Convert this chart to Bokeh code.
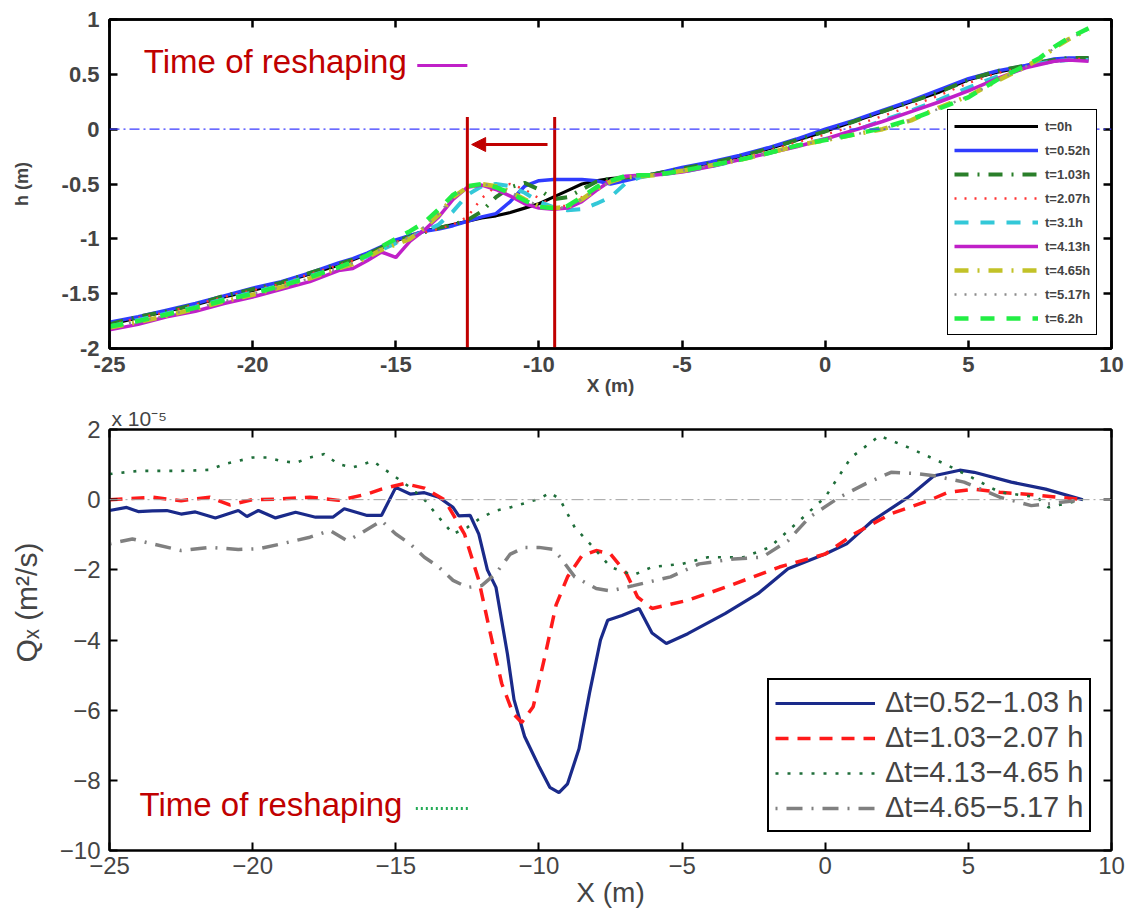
from bokeh.plotting import figure
from bokeh.models import (Range1d, LinearAxis, Legend, LegendItem, Label, Span,
                          Arrow, NormalHead, FixedTicker, Title)
from bokeh.layouts import column
from bokeh.embed import file_html
from bokeh.resources import INLINE

FONT = "Liberation Sans"

# ---------------- top panel data: bed profiles h(x) ----------------
X_TOP = [-25, -24, -23, -22, -21, -20, -19, -18, -17, -16.5, -16, -15.5, -15, -14.5, -14,
         -13.5, -13, -12.5, -12, -11.5, -11, -10.5, -10, -9.5, -9, -8.5, -8, -7.5, -7, -6.5,
         -6, -5, -4, -3, -2, -1, 0, 1, 2, 3, 4, 5, 6, 7, 7.5, 8, 8.5, 9.2]

H_T0 = [-1.78, -1.72, -1.66, -1.60, -1.53, -1.47, -1.40, -1.32, -1.24, -1.19, -1.14, -1.08, -1.02,
        -0.97, -0.93, -0.90, -0.87, -0.84, -0.81, -0.79, -0.76, -0.72, -0.68, -0.62, -0.56, -0.50,
        -0.47, -0.45, -0.44, -0.43, -0.41, -0.36, -0.31, -0.25, -0.18, -0.10, -0.02, 0.07, 0.16,
        0.25, 0.34, 0.45, 0.52, 0.57, 0.60, 0.62, 0.64, 0.64]
H_T052 = [-1.76, -1.71, -1.65, -1.59, -1.52, -1.45, -1.39, -1.31, -1.22, -1.18, -1.13, -1.07, -1.01,
          -0.97, -0.93, -0.91, -0.88, -0.84, -0.80, -0.77, -0.66, -0.52, -0.47, -0.46, -0.46, -0.46,
          -0.47, -0.50, -0.47, -0.44, -0.41, -0.35, -0.30, -0.24, -0.17, -0.09, 0.00, 0.08, 0.17,
          0.26, 0.36, 0.46, 0.53, 0.58, 0.61, 0.64, 0.65, 0.65]
H_T103 = [-1.78, -1.71, -1.66, -1.60, -1.52, -1.46, -1.40, -1.31, -1.23, -1.19, -1.14, -1.08, -1.02,
          -0.98, -0.94, -0.90, -0.87, -0.83, -0.75, -0.62, -0.53, -0.49, -0.55, -0.64, -0.62, -0.55,
          -0.48, -0.45, -0.44, -0.43, -0.41, -0.36, -0.31, -0.25, -0.18, -0.10, -0.02, 0.07, 0.16,
          0.25, 0.34, 0.45, 0.53, 0.58, 0.61, 0.63, 0.65, 0.65]
H_T207 = [-1.79, -1.72, -1.67, -1.60, -1.53, -1.47, -1.41, -1.32, -1.24, -1.20, -1.14, -1.09, -1.03,
          -0.98, -0.94, -0.91, -0.87, -0.80, -0.63, -0.52, -0.50, -0.55, -0.63, -0.70, -0.70, -0.62,
          -0.52, -0.46, -0.44, -0.43, -0.42, -0.38, -0.33, -0.27, -0.20, -0.12, -0.05, 0.03, 0.12,
          0.21, 0.31, 0.42, 0.51, 0.57, 0.60, 0.62, 0.64, 0.64]
H_T31 = [-1.80, -1.74, -1.68, -1.62, -1.55, -1.49, -1.42, -1.34, -1.26, -1.22, -1.16, -1.10, -1.04,
         -0.99, -0.93, -0.87, -0.75, -0.60, -0.52, -0.50, -0.52, -0.58, -0.66, -0.71, -0.74, -0.73,
         -0.68, -0.62, -0.50, -0.44, -0.42, -0.39, -0.34, -0.28, -0.22, -0.15, -0.09, -0.02, 0.08,
         0.17, 0.27, 0.38, 0.48, 0.56, 0.60, 0.62, 0.63, 0.63]
H_T413 = [-1.83, -1.78, -1.71, -1.66, -1.59, -1.53, -1.46, -1.39, -1.29, -1.27, -1.20, -1.12, -1.17,
          -1.02, -0.92, -0.80, -0.64, -0.53, -0.51, -0.55, -0.61, -0.68, -0.72, -0.73, -0.72, -0.66,
          -0.56, -0.47, -0.43, -0.42, -0.42, -0.39, -0.34, -0.28, -0.22, -0.16, -0.09, -0.01, 0.07,
          0.16, 0.25, 0.35, 0.46, 0.56, 0.59, 0.62, 0.63, 0.62]
H_T465 = [-1.81, -1.76, -1.70, -1.64, -1.57, -1.51, -1.44, -1.36, -1.27, -1.23, -1.17, -1.10, -1.05,
          -1.00, -0.90, -0.78, -0.62, -0.53, -0.50, -0.52, -0.57, -0.64, -0.70, -0.72, -0.71, -0.64,
          -0.55, -0.48, -0.44, -0.43, -0.42, -0.38, -0.33, -0.28, -0.22, -0.15, -0.10, -0.05, 0.00,
          0.08, 0.20, 0.30, 0.44, 0.57, 0.64, 0.74, 0.82, 0.91]
H_T517 = [-1.81, -1.75, -1.70, -1.63, -1.57, -1.50, -1.44, -1.36, -1.27, -1.22, -1.16, -1.09, -1.04,
          -0.98, -0.89, -0.77, -0.62, -0.53, -0.50, -0.52, -0.57, -0.64, -0.70, -0.72, -0.71, -0.64,
          -0.55, -0.48, -0.44, -0.43, -0.42, -0.38, -0.33, -0.28, -0.22, -0.15, -0.10, -0.05, 0.00,
          0.08, 0.19, 0.30, 0.44, 0.57, 0.64, 0.74, 0.82, 0.91]
H_T62 = [-1.80, -1.75, -1.69, -1.63, -1.56, -1.50, -1.43, -1.35, -1.26, -1.21, -1.15, -1.07, -1.00,
         -0.93, -0.85, -0.73, -0.60, -0.52, -0.50, -0.53, -0.58, -0.65, -0.71, -0.72, -0.70, -0.62,
         -0.53, -0.47, -0.43, -0.42, -0.42, -0.38, -0.33, -0.28, -0.22, -0.15, -0.10, -0.05, 0.01,
         0.09, 0.19, 0.29, 0.45, 0.58, 0.65, 0.75, 0.83, 0.92]

TOP_LABELS = ["t=0h", "t=0.52h", "t=1.03h", "t=2.07h", "t=3.1h", "t=4.13h", "t=4.65h",
              "t=5.17h", "t=6.2h"]
TOP_SERIES = [H_T0, H_T052, H_T103, H_T207, H_T31, H_T413, H_T465, H_T517, H_T62]

RESHAPE_X = [-12.5, -9.45]     # red vertical markers
RESHAPE_TOP = 0.11

# ---------------- bottom panel data: Qx (x 1e-5 m^2/s) ----------------
X_Q1 = [-25, -24.4, -24, -23.5, -23, -22.5, -22, -21.3, -20.5, -20.2, -19.8, -19.2, -18.5, -17.8,
        -17.2, -16.8, -16, -15.5, -15, -14.5, -14, -13.5, -13, -12.8, -12.4, -12.1, -11.8, -11.5,
        -11.1, -10.87, -10.5, -10, -9.62, -9.3, -9, -8.6, -8.23, -7.85, -7.6, -7.1, -6.5, -6.05,
        -5.55, -4.8, -3.5, -2.35, -1.3, 0, 0.75, 1.65, 2.9, 3.8, 4.7, 5.2, 6.5, 7.7, 9.0]
Q1 = [-0.31, -0.22, -0.34, -0.32, -0.31, -0.41, -0.35, -0.52, -0.31, -0.48, -0.31, -0.52, -0.36,
      -0.50, -0.50, -0.26, -0.45, -0.45, 0.35, 0.16, 0.20, 0.07, -0.22, -0.46, -0.45, -0.98, -2.0,
      -2.5, -4.4, -5.7, -6.75, -7.6, -8.2, -8.35, -8.1, -7.1, -5.5, -4.0, -3.44, -3.3, -3.1, -3.8,
      -4.1, -3.82, -3.25, -2.68, -1.97, -1.55, -1.26, -0.6, 0.07, 0.68, 0.84, 0.78, 0.5, 0.3, 0.0]

X_Q2 = [-25, -23.5, -22.5, -21.5, -20.8, -20, -19, -18, -17, -16, -15.5, -14.7, -14, -13.3, -12.6,
        -12.1, -11.7, -11.3, -10.9, -10.6, -10.2, -9.8, -9.4, -9.0, -8.5, -8.0, -7.5, -6.95, -6.55,
        -6.05, -4.8, -3.5, -1.6, 0, 1.0, 2.3, 3.6, 4.3, 5.2, 6.1, 7.4, 9.0]
Q2 = [0.0, 0.07, -0.03, 0.07, -0.15, 0.0, 0.02, 0.07, -0.02, 0.16, 0.3, 0.46, 0.33, 0.0, -0.98,
      -2.3, -3.8, -5.24, -6.1, -6.35, -5.9, -4.5, -3.0, -2.2, -1.6, -1.45, -1.55, -2.1, -2.78, -3.1,
      -2.87, -2.5, -1.92, -1.55, -0.98, -0.4, -0.03, 0.21, 0.3, 0.21, 0.13, 0.0]

X_Q3 = [-25, -24, -22.5, -21.5, -21, -20, -19.5, -19, -18.5, -18, -17.5, -17, -16.5, -15.8, -15,
        -14.5, -14, -13.5, -13, -12.5, -12, -11.5, -11, -10.5, -10, -9.6, -9.26, -8.75, -8.1, -7.5,
        -6.7, -6.05, -5.0, -4.1, -2.85, -1.95, -0.9, 0, 0.9, 1.9, 2.9, 4.2, 5.1, 6.1, 7.4, 7.8, 9.0]
Q3 = [0.73, 0.82, 0.82, 0.85, 1.01, 1.2, 1.2, 1.1, 1.05, 1.2, 1.3, 1.01, 0.92, 1.1, 0.64, 0.35, 0.0,
      -0.5, -0.98, -0.79, -0.5, -0.31, -0.22, -0.1, 0.02, 0.2, 0.0, -0.79, -1.36, -1.92, -2.15,
      -1.92, -1.83, -1.64, -1.64, -1.36, -0.6, 0.07, 1.2, 1.82, 1.49, 1.01, 0.64, 0.21, 0.07,
      -0.22, 0.0]

X_Q4 = [-25, -24.2, -23.5, -22.5, -21.5, -20.5, -19.8, -19, -18, -17.3, -16.7, -16.3, -15.5, -15,
        -14.5, -14, -13.5, -13, -12.5, -12, -11.5, -11, -10.5, -10, -9.5, -9.26, -8.75, -8.0, -7.5,
        -6.7, -5.4, -4.4, -3.2, -2.2, -1.3, -0.55, 0.5, 1.4, 2.3, 3.1, 3.8, 4.85, 6.1, 7.2, 7.8, 9.0]
Q4 = [-1.26, -1.12, -1.26, -1.45, -1.36, -1.42, -1.4, -1.26, -1.07, -0.88, -1.17, -1.0, -0.6, -0.98,
      -1.26, -1.64, -1.92, -2.3, -2.5, -2.45, -2.1, -1.55, -1.36, -1.36, -1.42, -1.64, -2.2, -2.53,
      -2.6, -2.45, -2.2, -1.83, -1.69, -1.64, -1.17, -0.5, 0.07, 0.45, 0.78, 0.75, 0.68, 0.5, 0.07,
      -0.17, -0.12, 0.0]

BOT_LABELS = ["\u0394t=0.52\u22121.03 h", "\u0394t=1.03\u22122.07 h",
              "\u0394t=4.13\u22124.65 h", "\u0394t=4.65\u22125.17 h"]

X_TICKS = [-25, -20, -15, -10, -5, 0, 5, 10]
H_TICKS = [-2, -1.5, -1, -0.5, 0, 0.5, 1]
Q_TICKS = [-10, -8, -6, -4, -2, 0, 2]

# annotation positions (data units)
TOP_NOTE = (-23.8, 0.615)
TOP_NOTE_LINE = ([-14.25, -12.5], [0.58, 0.58])
BOT_NOTE = (-23.95, -8.70)
BOT_NOTE_LINE = ([-14.3, -12.45], [-8.8, -8.8])
ARROW = (-9.7, -12.35, -0.14)

DARKRED = "#c00000"


def mirror_axis(fig, ticker, side, width):
    ax = LinearAxis(ticker=ticker, major_label_text_font_size="1px",
                    major_label_text_color=None,
                    major_tick_in=8, major_tick_out=0, minor_tick_line_color=None,
                    axis_line_color="black", axis_line_width=width,
                    major_tick_line_width=width, major_label_standoff=0)
    fig.add_layout(ax, side)


# ================= TOP FIGURE =================
p1 = figure(width=1137, height=404, x_range=Range1d(-25, 10), y_range=Range1d(-2, 1),
            output_backend="svg", toolbar_location=None,
            min_border_left=105, min_border_right=24, min_border_top=19, min_border_bottom=56)
p1.grid.visible = False
p1.outline_line_color = "black"
p1.outline_line_width = 2.5

xt = FixedTicker(ticks=X_TICKS)
ht = FixedTicker(ticks=H_TICKS)
p1.xaxis.ticker = xt
p1.yaxis.ticker = ht
p1.xaxis.major_label_overrides = {t: str(t) for t in X_TICKS}
p1.yaxis.major_label_overrides = {-2: "-2", -1.5: "-1.5", -1: "-1", -0.5: "-0.5", 0: "0",
                                  0.5: "0.5", 1: "1"}
for ax in (p1.xaxis[0], p1.yaxis[0]):
    ax.major_tick_in = 8
    ax.major_tick_out = 0
    ax.minor_tick_line_color = None
    ax.axis_line_width = 2.5
    ax.major_tick_line_width = 2.5
    ax.major_label_text_font = FONT
    ax.major_label_text_font_style = "bold"
    ax.major_label_text_font_size = "22px"
    ax.major_label_standoff = 10
    ax.axis_label_text_font = FONT
    ax.axis_label_text_font_style = "bold"
p1.xaxis.major_label_standoff = 8
p1.xaxis.axis_label = "X (m)"
p1.xaxis.axis_label_text_font_size = "19px"
p1.xaxis.axis_label_standoff = 0
p1.yaxis.axis_label = "h (m)"
p1.yaxis.axis_label_text_font_size = "18px"
p1.yaxis.axis_label_standoff = 27
mirror_axis(p1, xt, "above", 2.5)
mirror_axis(p1, ht, "right", 2.5)

p1.add_layout(Span(location=0, dimension="width", line_color="#3a3aff", line_width=1.2,
                   line_dash="10 4 2 4"))

top_styles = [
    dict(line_color="#000000", line_width=3.2),
    dict(line_color="#2f3cff", line_width=3.5),
    dict(line_color="#2a7f2a", line_width=4, line_dash="14 9 2 9"),
    dict(line_color="#ff3333", line_width=2.4, line_dash="2 8"),
    dict(line_color="#33c8d8", line_width=4, line_dash="14 12"),
    dict(line_color="#c020c8", line_width=3.5),
    dict(line_color="#c2c228", line_width=4.5, line_dash="14 9 2 9"),
    dict(line_color="#8c8c8c", line_width=2.4, line_dash="2 8"),
    dict(line_color="#22ee44", line_width=4.5, line_dash="14 12"),
]
top_items = []
for lab, ys, st in zip(TOP_LABELS, TOP_SERIES, top_styles):
    r = p1.line(X_TOP, ys, **st)
    top_items.append(LegendItem(label=lab, renderers=[r]))

p1.segment(x0=RESHAPE_X, y0=[RESHAPE_TOP] * 2, x1=RESHAPE_X, y1=[-2] * 2,
           line_color=DARKRED, line_width=3)
p1.add_layout(Arrow(end=NormalHead(size=14, fill_color=DARKRED, line_color=DARKRED),
                    x_start=ARROW[0], y_start=ARROW[2], x_end=ARROW[1], y_end=ARROW[2],
                    line_color=DARKRED, line_width=3))

p1.add_layout(Label(x=TOP_NOTE[0], y=TOP_NOTE[1], text="Time of reshaping", text_color=DARKRED,
                    text_font=FONT, text_font_size="33px", text_baseline="middle"))
p1.line(TOP_NOTE_LINE[0], TOP_NOTE_LINE[1], line_color="#c020c8", line_width=3)

leg1 = Legend(items=top_items, location=(838, 13), label_text_font=FONT,
              label_text_font_style="bold", label_text_font_size="13px",
              glyph_width=84, glyph_height=20, label_height=20, label_standoff=7,
              spacing=4, padding=6, margin=0, border_line_color="black",
              border_line_alpha=1, border_line_width=1.5,
              background_fill_color="white", background_fill_alpha=1)
p1.add_layout(leg1)

# ================= BOTTOM FIGURE =================
p2 = figure(width=1137, height=511, x_range=Range1d(-25, 10), y_range=Range1d(-10, 2),
            output_backend="svg", toolbar_location=None,
            min_border_left=109, min_border_right=26, min_border_top=25, min_border_bottom=65)
p2.grid.visible = False
p2.outline_line_color = "black"
p2.outline_line_width = 2

qt = FixedTicker(ticks=Q_TICKS)
p2.xaxis.ticker = xt
p2.yaxis.ticker = qt
p2.xaxis.major_label_overrides = {t: str(t).replace("-", "\u2212") for t in X_TICKS}
p2.yaxis.major_label_overrides = {t: str(t).replace("-", "\u2212") for t in Q_TICKS}
for ax in (p2.xaxis[0], p2.yaxis[0]):
    ax.major_tick_in = 8
    ax.major_tick_out = 0
    ax.minor_tick_line_color = None
    ax.axis_line_width = 2
    ax.major_tick_line_width = 2
    ax.major_label_text_font = FONT
    ax.major_label_text_font_size = "24px"
    ax.major_label_standoff = 9
    ax.axis_label_text_font = FONT
    ax.axis_label_text_font_style = "normal"
p2.xaxis.major_label_standoff = 6
p2.xaxis.axis_label = "X (m)"
p2.xaxis.axis_label_text_font_size = "28px"
p2.xaxis.axis_label_standoff = 0
p2.yaxis.axis_label = "\u00a0" * 9 + "Q\u2093 (m\u00b2/s)"
p2.yaxis.axis_label_text_font_size = "30px"
p2.yaxis.axis_label_standoff = 14
mirror_axis(p2, xt, "above", 2)
mirror_axis(p2, qt, "right", 2)
p2.add_layout(Title(text="x 10\u207b\u2075", align="left", text_font=FONT,
                    text_font_size="21px", text_font_style="normal", standoff=0,
                    offset=2), "above")

p2.add_layout(Span(location=0, dimension="width", line_color="#a0a0a0", line_width=1,
                   line_dash="12 4 2 4"))

r1 = p2.line(X_Q1, Q1, line_color="#1a2a8a", line_width=3.2)
r2 = p2.line(X_Q2, Q2, line_color="#ff1a1a", line_width=3.5, line_dash="13 9")
r3 = p2.line(X_Q3, Q3, line_color="#1f6e3a", line_width=2.6, line_dash="3 9")
r4 = p2.line(X_Q4, Q4, line_color="#808080", line_width=3.5, line_dash="2 9 16 9")

p2.add_layout(Label(x=BOT_NOTE[0], y=BOT_NOTE[1], text="Time of reshaping", text_color=DARKRED,
                    text_font=FONT, text_font_size="33px", text_baseline="middle"))
p2.line(BOT_NOTE_LINE[0], BOT_NOTE_LINE[1], line_color="#22aa55", line_width=3,
        line_dash="2 3")

leg2 = Legend(items=[LegendItem(label=BOT_LABELS[0], renderers=[r1]),
                     LegendItem(label=BOT_LABELS[1], renderers=[r2]),
                     LegendItem(label=BOT_LABELS[2], renderers=[r3]),
                     LegendItem(label=BOT_LABELS[3], renderers=[r4])],
              location=(658, 18), label_text_font=FONT, label_text_font_size="29px",
              glyph_width=100, glyph_height=30, label_height=30, label_standoff=10,
              spacing=2, padding=6, margin=0, border_line_color="black",
              border_line_alpha=1, border_line_width=2,
              background_fill_color="white", background_fill_alpha=1)
p2.add_layout(leg2)

layout = column(p1, p2, spacing=0)
open("out.html", "w").write(file_html(layout, INLINE))
